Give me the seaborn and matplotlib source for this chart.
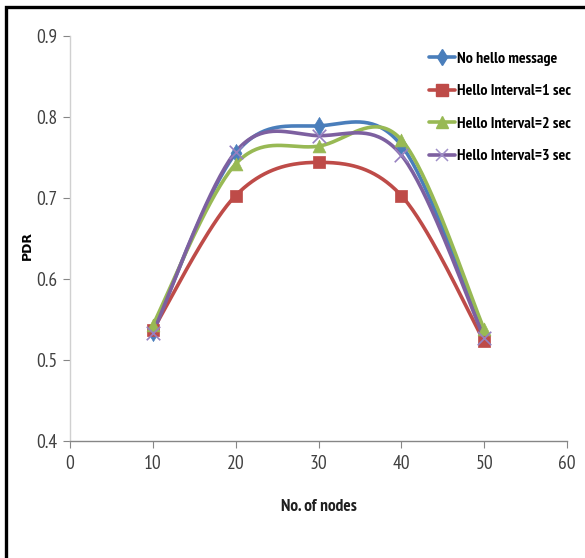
import numpy as np
import pandas as pd
import matplotlib
matplotlib.use("Agg")
import matplotlib.pyplot as plt
from matplotlib.lines import Line2D
from matplotlib.patches import Rectangle
import seaborn as sns

# Data
nodes = [10, 20, 30, 40, 50]
no_hello = [0.535, 0.755, 0.789, 0.765, 0.530]
hello_1s = [0.537, 0.703, 0.744, 0.703, 0.523]
hello_2s = [0.543, 0.742, 0.764, 0.772, 0.538]
hello_3s = [0.533, 0.757, 0.777, 0.753, 0.527]

series_names = ["No hello message", "Hello Interval=1 sec",
                "Hello Interval=2 sec", "Hello Interval=3 sec"]
x_ticks = [0, 10, 20, 30, 40, 50, 60]
y_ticks = [0.4, 0.5, 0.6, 0.7, 0.8, 0.9]

colors = ["#4A7EBB", "#BE4B48", "#98B954", "#7D60A0"]
markers = ["d", "s", "^", "x"]
msizes = [85, 80, 85, 95]

NARROW = ["PT Sans Narrow", "Carlito", "DejaVu Sans"]


def smooth_curve(xs, ys, n=40):
    """Cubic Bezier smoothing through the points (spreadsheet-style smoothed line)."""
    xs = np.asarray(xs, float)
    ys = np.asarray(ys, float)
    P = np.column_stack([xs, ys])
    out = []
    for i in range(len(P) - 1):
        p0 = P[i - 1] if i > 0 else P[i]
        p1 = P[i]
        p2 = P[i + 1]
        p3 = P[i + 2] if i + 2 < len(P) else P[i + 1]
        c1 = p1 + (p2 - p0) / 6.0
        c2 = p2 - (p3 - p1) / 6.0
        t = np.linspace(0, 1, n, endpoint=(i == len(P) - 2))[:, None]
        seg = ((1 - t) ** 3) * p1 + 3 * ((1 - t) ** 2) * t * c1 \
            + 3 * (1 - t) * t ** 2 * c2 + t ** 3 * p2
        out.append(seg)
    return np.vstack(out)


sns.set_style("white")
plt.rcParams["font.family"] = NARROW

fig = plt.figure(figsize=(5.85, 5.58), dpi=100)
ax = fig.add_axes([70 / 585, 1 - 441 / 558, (567 - 70) / 585, (441 - 36) / 558])

all_values = [no_hello, hello_1s, hello_2s, hello_3s]
for name, vals, c, m, s in zip(series_names, all_values, colors, markers, msizes):
    curve = smooth_curve(nodes, vals)
    df = pd.DataFrame({"x": curve[:, 0], "y": curve[:, 1]})
    sns.lineplot(data=df, x="x", y="y", sort=False, estimator=None,
                 color=c, linewidth=2.6, ax=ax, legend=False)
    if m == "x":
        sns.scatterplot(x=nodes, y=vals, marker=m, s=s, color="#9680C0",
                        linewidth=1.2, ax=ax, legend=False, zorder=5)
    else:
        sns.scatterplot(x=nodes, y=vals, marker=m, s=s, color=c,
                        edgecolor=c, linewidth=0.5, ax=ax, legend=False, zorder=5)

ax.set_xlim(0, 60)
ax.set_ylim(0.4, 0.9)
ax.set_xticks(x_ticks)
ax.set_yticks(y_ticks)
ax.set_xticklabels([str(v) for v in x_ticks])
ax.set_yticklabels([f"{v:.1f}" for v in y_ticks])

for side in ["top", "right"]:
    ax.spines[side].set_visible(False)
ax.spines["left"].set_color("#D0D0D0")
ax.spines["left"].set_linewidth(1.0)
ax.spines["bottom"].set_color("#868686")
ax.spines["bottom"].set_linewidth(1.0)

ax.tick_params(axis="x", direction="out", length=5, width=0.8, color="#868686",
               labelsize=14, labelcolor="#404040", pad=5, bottom=True)
ax.tick_params(axis="y", direction="out", length=5, width=0.8, color="#868686",
               labelsize=14, labelcolor="#404040", pad=4, left=True)

ax.set_xlabel("No. of nodes", fontsize=12.5, fontweight="bold", color="#202020")
ax.xaxis.set_label_coords(0.5, (441 - 499) / 405)
ax.set_ylabel("PDR", fontsize=9, fontweight="bold", color="black",
              family=["DejaVu Sans"])
ax.yaxis.set_label_coords((34 - 70) / 497, (441 - 245) / 405)

handles = []
for name, c, m in zip(series_names, colors, markers):
    if m == "x":
        h = Line2D([0], [0], color=c, lw=2.6, marker="x", markersize=8,
                   markeredgecolor="#A090C8", markeredgewidth=1.1)
    else:
        ms = {"d": 8.5, "s": 8, "^": 8.5}[m]
        h = Line2D([0], [0], color=c, lw=2.6, marker=m, markersize=ms,
                   markerfacecolor=c, markeredgecolor=c)
    handles.append(h)

leg = ax.legend(handles, series_names, loc="upper left",
                bbox_to_anchor=((415 - 70) / 497, (441 - 37) / 405), frameon=False,
                handlelength=1.6, handletextpad=0.15, labelspacing=1.15,
                prop={"weight": "bold", "size": 11.5, "family": NARROW})
for t in leg.get_texts():
    t.set_color("black")

# Outer black frame
fig.add_artist(Rectangle((6 / 585, -0.1), 1.2, 1 - 6.5 / 558 + 0.1,
                         transform=fig.transFigure, fill=False,
                         edgecolor="black", linewidth=2.4))

fig.savefig("out.png", dpi=100, facecolor="white")
